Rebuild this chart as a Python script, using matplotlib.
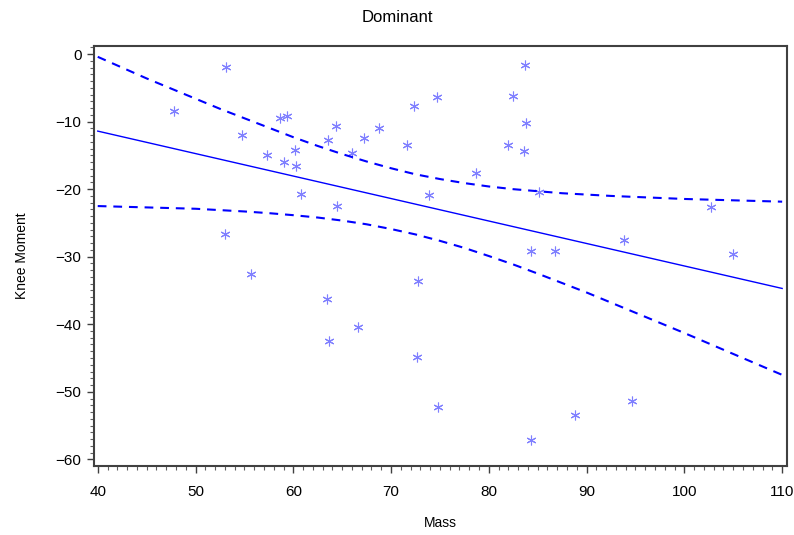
import matplotlib
matplotlib.use('Agg')
import matplotlib.pyplot as plt
import numpy as np
from matplotlib.ticker import MultipleLocator

plt.rcParams['font.family'] = ['Liberation Sans', 'DejaVu Sans']

# observed points (Mass, Knee Moment)
mass = [47.8, 53.1, 54.8, 53.0, 55.7, 57.3, 58.6, 59.4, 59.0, 60.2,
        60.3, 60.8, 63.6, 64.4, 64.5, 63.5, 63.7, 66.0, 66.6, 67.2,
        68.8, 71.6, 72.3, 72.8, 72.7, 73.9, 74.7, 74.8, 78.7, 82.0,
        82.5, 83.7, 83.8, 83.6, 85.1, 84.3, 84.3, 86.8, 88.8, 93.8,
        94.6, 102.7, 105.0]
moment = [-8.4, -1.9, -12.0, -26.6, -32.6, -14.9, -9.4, -9.1, -16.0, -14.2,
          -16.6, -20.7, -12.7, -10.7, -22.5, -36.2, -42.5, -14.7, -40.4, -12.4,
          -10.9, -13.5, -7.7, -33.6, -44.9, -20.8, -6.4, -52.3, -17.6, -13.5,
          -6.2, -1.6, -10.2, -14.4, -20.4, -57.2, -29.1, -29.2, -53.4, -27.5,
          -51.3, -22.6, -29.6]

# fitted line end points
fit_x = [40, 110]
fit_y = [-11.4, -34.7]

# confidence limits
band_x = [40, 42.5, 45, 47.5, 50, 52.5, 55, 57.5, 60, 62.5, 65, 67.5, 70,
          72.5, 75, 77.5, 80, 82.5, 85, 87.5, 90, 92.5, 95, 97.5, 100,
          102.5, 105, 107.5, 110]
upper = [-0.4, -2.0, -3.6, -5.1, -6.6, -8.1, -9.5, -10.9, -12.3, -13.6,
         -14.8, -15.9, -16.9, -17.8, -18.5, -19.1, -19.6, -20.0, -20.3,
         -20.6, -20.8, -21.0, -21.15, -21.3, -21.45, -21.55, -21.65, -21.75,
         -21.85]
lower = [-22.5, -22.6, -22.7, -22.8, -22.9, -23.1, -23.3, -23.55, -23.85,
         -24.2, -24.65, -25.2, -25.9, -26.7, -27.65, -28.7, -29.9, -31.15,
         -32.5, -33.9, -35.3, -36.8, -38.3, -39.8, -41.3, -42.85, -44.4,
         -45.95, -47.5]

fig = plt.figure(figsize=(7.94, 5.35), dpi=100)
ax = fig.add_axes([0.1184, 0.1295, 0.8726, 0.7845])

ax.plot(mass, moment, linestyle='none', marker=(6, 2, 0), markersize=7,
        markeredgecolor='#8080ff', markeredgewidth=0.8)
ax.plot(fit_x, fit_y, color='#0000ff', linewidth=1.0)
ax.plot(band_x, upper, color='#0000ff', linewidth=1.5, dashes=(4.2, 3.3))
ax.plot(band_x, lower, color='#0000ff', linewidth=1.5, dashes=(4.2, 3.3))

ax.set_xlim(39.62, 110.48)
ax.set_ylim(-60.95, 1.2)
ax.xaxis.set_major_locator(MultipleLocator(10))
ax.xaxis.set_minor_locator(MultipleLocator(1))
ax.yaxis.set_major_locator(MultipleLocator(10))
ax.yaxis.set_minor_locator(MultipleLocator(1))
ax.tick_params(which='major', length=5, width=1, color='#404040',
               labelsize=11, pad=4)
ax.tick_params(axis='x', which='major', pad=9)
ax.tick_params(which='minor', length=3, width=0.8, color='#606060')

for sp in ax.spines.values():
    sp.set_color('#404040')
    sp.set_linewidth(1.5)

ax.set_xlabel('Mass', fontsize=10, labelpad=12)
ax.set_ylabel('Knee Moment', fontsize=10, labelpad=19)
fig.text(0.5, 0.967, 'Dominant', ha='center', va='center', fontsize=12)

fig.savefig('out.png', dpi=100)
